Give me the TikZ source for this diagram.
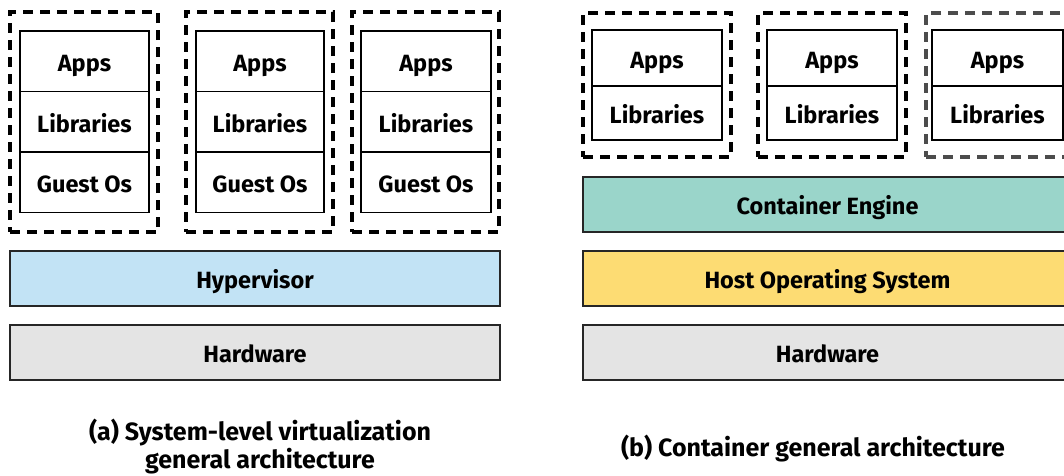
\documentclass[tikz,border=0pt]{standalone}
\usepackage{fontspec}
\setmainfont{Fira Sans}
\definecolor{hypc}{HTML}{C2E3F5}
\definecolor{engc}{HTML}{9AD5CA}
\definecolor{hostc}{HTML}{FDDC73}
\definecolor{hwc}{HTML}{E4E4E4}
\begin{document}
\begin{tikzpicture}[x=1pt,y=-1pt,
  every node/.style={font=\fontsize{23.5}{28}\selectfont\bfseries, inner sep=0pt, outer sep=0pt,
    text height=20.5pt, text depth=0pt},
  layer/.style={draw=black, line width=1.6pt, fill=white},
  dbox/.style={draw=black, line width=3.2pt, dash pattern=on 10pt off 7pt, text height=0pt, text depth=0pt},
  dboxgray/.style={dbox, draw=black!70},
  bar/.style={draw=black!85, line width=2pt},
  caption/.style={align=center, font=\fontsize{25}{28}\selectfont\bfseries, text height=, text depth=}]
\useasboundingbox (0,0) rectangle (1064,475);

% ---- left panel: system-level virtualization ----
\node[dbox, minimum width=148pt, minimum height=220pt] (vm1) at (84,122) {};
\node[dbox, minimum width=147pt, minimum height=220pt] (vm2) at (259.5,122) {};
\node[dbox, minimum width=147pt, minimum height=220pt] (vm3) at (425.5,122) {};

\foreach \i/\cx/\w in {1/84.5/129, 2/260/128, 3/426/130}{
  \node[layer, minimum width=\w pt, minimum height=60.5pt] (apps\i) at (\cx,61.25) {Apps};
  \node[layer, minimum width=\w pt, minimum height=60.5pt] (libs\i) at (\cx,121.75) {Libraries};
  \node[layer, minimum width=\w pt, minimum height=60.5pt] (gos\i) at (\cx,182.25) {Guest Os};
}

\node[bar, fill=hypc, minimum width=490pt, minimum height=55pt] (hyp) at (255,278.5) {Hypervisor};
\node[bar, fill=hwc, minimum width=490pt, minimum height=55pt] (hwa) at (255,352.5) {Hardware};

\node[caption] (capa) at (260,446.5) {(a) System-level virtualization\\general architecture};

% ---- right panel: container architecture ----
\node[dbox, minimum width=148pt, minimum height=144pt] (ct1) at (657,85) {};
\node[dbox, minimum width=148pt, minimum height=144pt] (ct2) at (832,85) {};
\node[dboxgray, minimum width=148pt, minimum height=144pt] (ct3) at (1000,85) {};

\foreach \i/\cx/\w in {1/657/130, 2/832/130, 3/997.5/131}{
  \node[layer, minimum width=\w pt, minimum height=55.5pt] (capps\i) at (\cx,58) {Apps};
  \node[layer, minimum width=\w pt, minimum height=54.5pt] (clibs\i) at (\cx,113) {Libraries};
}

\node[bar, fill=engc, minimum width=490pt, minimum height=55pt] (eng) at (827.5,204.5) {Container Engine};
\node[bar, fill=hostc, minimum width=490pt, minimum height=55pt] (host) at (827.5,278.5) {Host Operating System};
\node[bar, fill=hwc, minimum width=490pt, minimum height=55pt] (hwb) at (827.5,352.5) {Hardware};

\node[caption] (capb) at (813,448.5) {(b) Container general architecture};
\end{tikzpicture}
\end{document}
